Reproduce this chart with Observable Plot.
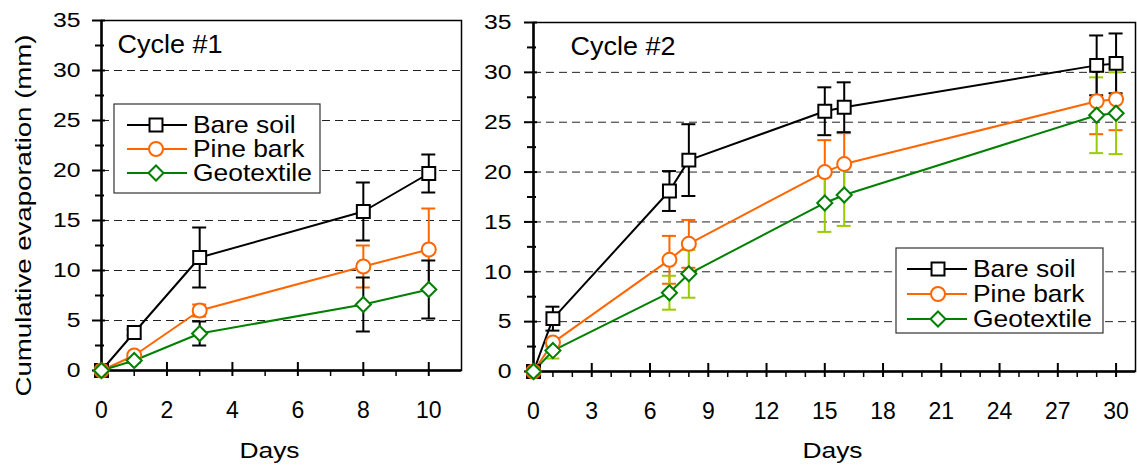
<!DOCTYPE html>
<html>
<head>
<meta charset="utf-8">
<script src="https://cdn.jsdelivr.net/npm/d3@7"></script>
<script src="https://cdn.jsdelivr.net/npm/@observablehq/plot@0.6"></script>
<style>
  html, body { margin: 0; padding: 0; background: #fff; }
  #chart { position: relative; width: 1137px; height: 467px; font-family: "Liberation Sans", Arial, sans-serif; }
  #chart > svg { position: absolute; top: 0; }
</style>
</head>
<body>
<div id="chart"></div>
<script>
// ---------- data ----------
const seriesNames = ["Bare soil", "Pine bark", "Geotextile"];
const seriesColors = ["#000000", "#ff6600", "#008000"];

// Cycle #1
const c1Days = [0, 1, 3, 8, 10];
const c1Bare = [0, 3.8, 11.3, 15.9, 19.7];
const c1BareErr = [0, 0.3, 3.0, 2.9, 1.9];
const c1Pine = [0, 1.5, 6.0, 10.4, 12.1];
const c1PineErr = [0, 0.2, 0.6, 2.1, 4.1];
const c1Geo = [0, 1.0, 3.7, 6.6, 8.1];
const c1GeoErr = [0, 0.2, 1.2, 2.7, 2.9];
const c1ErrColors = ["#000000", "#ff6600", "#000000"];

// Cycle #2
const c2Days = [0, 1, 7, 8, 15, 16, 29, 30];
const c2Bare = [0, 5.3, 18.1, 21.2, 26.1, 26.5, 30.7, 30.9];
const c2BareErr = [0, 1.2, 2.0, 3.6, 2.4, 2.5, 3.0, 3.0];
const c2Pine = [0, 2.9, 11.2, 12.8, 20.0, 20.8, 27.1, 27.3];
const c2PineErr = [0, 0.4, 2.4, 2.4, 3.2, 3.1, 3.3, 3.1];
const c2Geo = [0, 2.1, 7.9, 9.8, 16.9, 17.7, 25.7, 25.9];
const c2GeoErr = [0, 0.8, 1.7, 2.4, 2.9, 3.1, 3.8, 4.1];
const c2ErrColors = ["#000000", "#ff6600", "#99cc00"];

// axes
const yMajor = [0, 5, 10, 15, 20, 25, 30, 35];
const yMinor = [2.5, 7.5, 12.5, 17.5, 22.5, 27.5, 32.5];
const yGrid = [5, 10, 15, 20, 25, 30];
const c1XMajor = [0, 2, 4, 6, 8, 10];
const c1XMinor = [1, 3, 5, 7, 9];
const c2XMajor = [0, 3, 6, 9, 12, 15, 18, 21, 24, 27, 30];
const c2XMinor = [1, 2, 4, 5, 7, 8, 10, 11, 13, 14, 16, 17, 19, 20, 22, 23, 25, 26, 28, 29];

const yLabel = "Cumulative evaporation (mm)";
const xLabel = "Days";

// ---------- helpers ----------
function makeRows(days, vals, errs, name, color, errColor) {
  return days.map((d, i) => ({day: d, v: vals[i], e: errs[i], series: name, color, errColor}));
}
const markerSpec = [
  {symbol: "square", r: 7.3},
  {symbol: "circle", r: 7},
  {symbol: "diamond2", r: 6.8}
];

function panel(o) {
  const [bare, pine, geo] = o.rows;
  const errMarks = [];
  for (const rows of [pine, geo, bare]) {
    const er = rows.filter(d => d.e > 0);
    errMarks.push(
      Plot.ruleX(er, {x: "day", y1: d => d.v - d.e, y2: d => d.v + d.e, stroke: "errColor", strokeWidth: 2}),
      Plot.ruleY(er, {y: d => d.v + d.e, x1: "day", x2: "day", insetLeft: -7, insetRight: -7, stroke: "errColor", strokeWidth: 2}),
      Plot.ruleY(er, {y: d => d.v - d.e, x1: "day", x2: "day", insetLeft: -7, insetRight: -7, stroke: "errColor", strokeWidth: 2})
    );
  }
  const lineMarks = o.rows.map((rows, k) =>
    Plot.line(rows, {x: "day", y: "v", stroke: seriesColors[k], strokeWidth: 2}));
  const dotMarks = o.rows.map((rows, k) =>
    Plot.dot(rows, {x: "day", y: "v", symbol: markerSpec[k].symbol, r: markerSpec[k].r,
      stroke: seriesColors[k], strokeWidth: 2, fill: "white"}));
  return Plot.plot({
    width: o.width,
    height: 467,
    marginLeft: o.marginLeft,
    marginRight: o.marginRight,
    marginTop: o.marginTop,
    marginBottom: o.marginBottom,
    x: {domain: o.xDomain},
    y: {domain: [0, 35]},
    color: {type: "identity"},
    style: {fontFamily: "'Liberation Sans', Arial, sans-serif", color: "#000", background: "transparent", overflow: "visible"},
    marks: [
      Plot.gridY(yGrid, {stroke: "#222", strokeOpacity: 1, strokeWidth: 1, strokeDasharray: "8,5"}),
      Plot.frame({stroke: "#000", strokeWidth: 1.5}),
      Plot.ruleX([o.xDomain[0]], {stroke: "#000", strokeWidth: 2.5}),
      Plot.ruleY([0], {stroke: "#000", strokeWidth: 2.5}),
      Plot.axisY(yMajor, {tickSize: 9, tickPadding: o.yPad, fontSize: 21, label: null, strokeWidth: 2}),
      Plot.axisY(yMinor, {tickSize: 6, text: null, label: null, strokeWidth: 2}),
      Plot.ruleY(yMajor, {x1: o.xDomain[0], x2: o.xDomain[0], insetRight: -4, strokeWidth: 2}),
      Plot.ruleY(yMinor, {x1: o.xDomain[0], x2: o.xDomain[0], insetRight: -3, strokeWidth: 2}),
      Plot.axisX(o.xMajor, {tickSize: 6, tickPadding: 25, fontSize: 23, label: null, strokeWidth: 2}),
      Plot.axisX(o.xMinor, {tickSize: 6, text: null, label: null, strokeWidth: 1.5}),
      Plot.ruleX(o.xMajor, {y1: 0, y2: 0, insetBottom: 8, strokeWidth: 2}),
      ...errMarks,
      ...lineMarks,
      ...dotMarks,
      Plot.text([o.title], {frameAnchor: "top-left", dx: o.titleDx, dy: o.titleDy, fontSize: 25}),
      Plot.text([xLabel], {frameAnchor: "bottom", textAnchor: "middle", lineAnchor: "middle", dx: o.daysDx, dy: o.daysDy, fontSize: 22}),
      ...(o.yLabel ? [Plot.text([o.yLabel], {frameAnchor: "left", textAnchor: "middle", lineAnchor: "middle", rotate: -90, dx: -78, dy: 20, fontSize: 22})] : [])
    ]
  });
}

const c1Rows = [
  makeRows(c1Days, c1Bare, c1BareErr, seriesNames[0], seriesColors[0], c1ErrColors[0]),
  makeRows(c1Days, c1Pine, c1PineErr, seriesNames[1], seriesColors[1], c1ErrColors[1]),
  makeRows(c1Days, c1Geo, c1GeoErr, seriesNames[2], seriesColors[2], c1ErrColors[2])
];
const c2Rows = [
  makeRows(c2Days, c2Bare, c2BareErr, seriesNames[0], seriesColors[0], c2ErrColors[0]),
  makeRows(c2Days, c2Pine, c2PineErr, seriesNames[1], seriesColors[1], c2ErrColors[1]),
  makeRows(c2Days, c2Geo, c2GeoErr, seriesNames[2], seriesColors[2], c2ErrColors[2])
];

const chart = document.getElementById("chart");

const left = panel({
  rows: c1Rows, width: 470, marginLeft: 101, marginRight: 9, marginTop: 20, marginBottom: 97,
  xDomain: [0, 11], xMajor: c1XMajor, xMinor: c1XMinor, yPad: 12,
  title: "Cycle #1", titleDx: 16, titleDy: 15, daysDx: -12, daysDy: 80, yLabel: yLabel
});
left.style.left = "0px";
chart.appendChild(left);

const right = panel({
  rows: c2Rows, width: 667, marginLeft: 63, marginRight: 2, marginTop: 22, marginBottom: 96,
  xDomain: [0, 31], xMajor: c2XMajor, xMinor: c2XMinor, yPad: 13,
  title: "Cycle #2", titleDx: 37, titleDy: 15, daysDx: -2, daysDy: 79, yLabel: null
});
right.style.left = "470px";
chart.appendChild(right);

// ---------- legends (overlay) ----------
const overlay = d3.select(chart).append("svg")
  .attr("width", 1137).attr("height", 467)
  .style("left", "0px")
  .style("font-family", "'Liberation Sans', Arial, sans-serif");

function drawLegend(L) {
  const g = overlay.append("g");
  g.append("rect").attr("x", L.x).attr("y", L.y).attr("width", L.w).attr("height", L.h)
    .attr("fill", "white").attr("stroke", "#333").attr("stroke-width", 1.2);
  seriesNames.forEach((name, k) => {
    const cy = L.rowY[k];
    g.append("line").attr("x1", L.lineX1).attr("x2", L.lineX2).attr("y1", cy).attr("y2", cy)
      .attr("stroke", seriesColors[k]).attr("stroke-width", 2);
    const sym = {square: d3.symbolSquare, circle: d3.symbolCircle, diamond2: d3.symbolDiamond2}[markerSpec[k].symbol];
    g.append("path").attr("d", d3.symbol(sym, Math.PI * markerSpec[k].r ** 2)())
      .attr("transform", `translate(${L.markX},${cy})`)
      .attr("fill", "white").attr("stroke", seriesColors[k]).attr("stroke-width", 2);
    g.append("text").attr("transform", `translate(${L.textX},${cy})`).attr("dy", "0.35em")
      .attr("font-size", L.fontSize).attr("fill", "#000").text(name);
  });
}
drawLegend({x: 114, y: 104, w: 206, h: 89, lineX1: 127, lineX2: 187, markX: 156, textX: 193, rowY: [125, 149, 173], fontSize: 24});
drawLegend({x: 896, y: 248, w: 207, h: 85, lineX1: 907, lineX2: 967, markX: 938, textX: 973, rowY: [269, 294, 319], fontSize: 24});

// ---------- horizontal stretch of text about its anchor (reference glyphs are wider than Arial) ----------
function stretch(t, f) {
  const tr = t.getAttribute("transform") || "";
  t.setAttribute("transform", `${tr} scale(${f.toFixed(3)},1)`);
}
for (const svg of [left, right]) {
  svg.querySelectorAll('g[aria-label="y-axis tick label"] text').forEach(t => stretch(t, 1.18));
  svg.querySelectorAll('g[aria-label="text"] text').forEach(t => {
    const s = t.textContent;
    if (s === yLabel) stretch(t, 362 / t.getComputedTextLength());
    else if (s === xLabel) stretch(t, 1.2);
    else stretch(t, 1.08);
  });
}
overlay.selectAll("text").each(function() { stretch(this, 1.1); });
</script>
</body>
</html>
